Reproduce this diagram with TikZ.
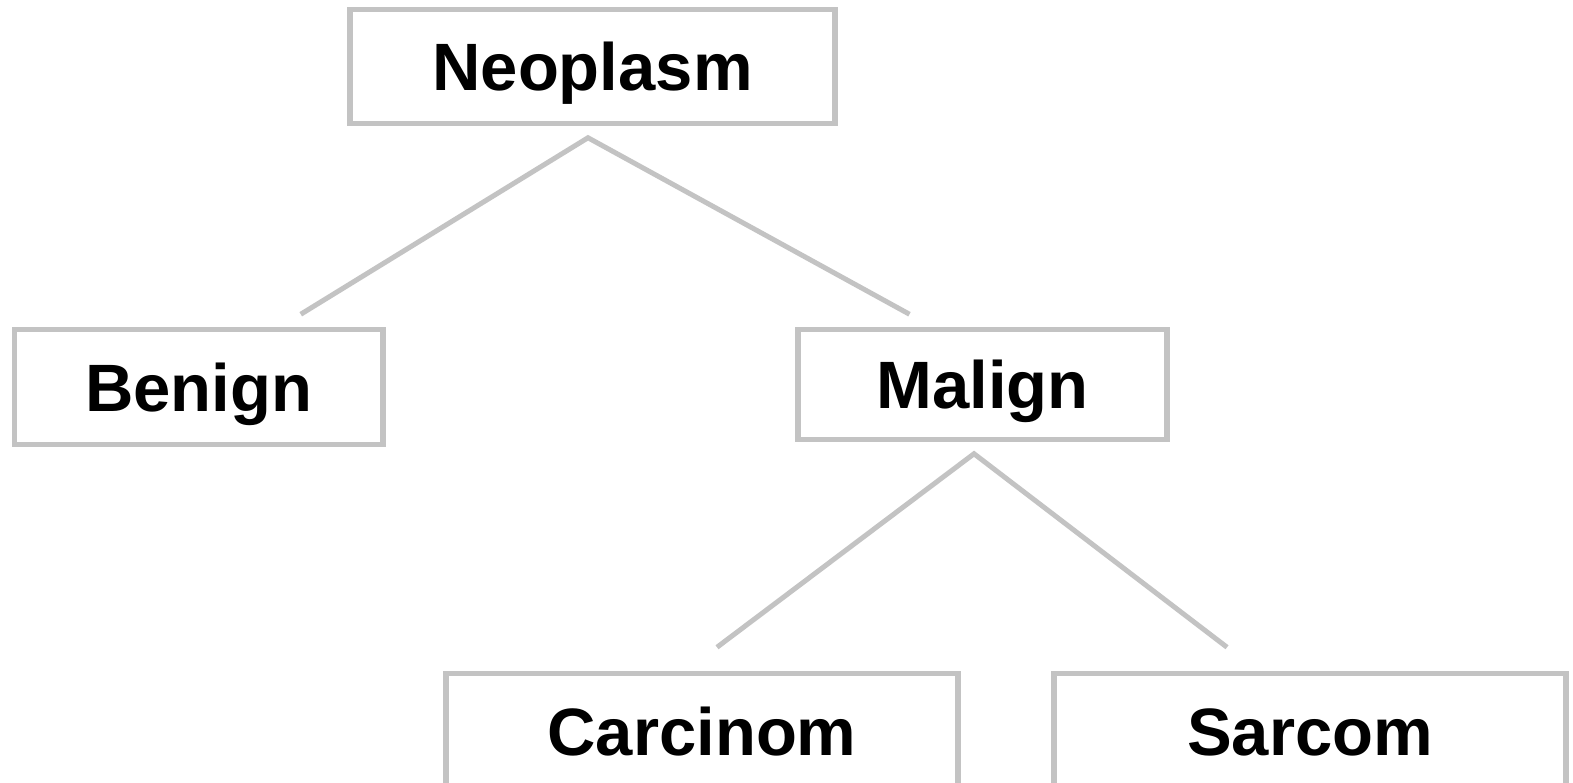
\documentclass[tikz,border=0pt]{standalone}
\usepackage{fontspec}
\setmainfont{Liberation Sans}
\usepackage{xcolor}
\usepackage{tikz}
\usetikzlibrary{positioning,calc}
\definecolor{boxgray}{RGB}{195,195,195}
\tikzset{
  cls/.style={rectangle, draw=boxgray, line width=5.5pt, fill=white, inner sep=0pt,
    text height=48pt, text depth=0pt, align=center,
    font=\fontsize{67}{80}\selectfont\bfseries},
  link/.style={draw=boxgray, line width=5pt},
}

\begin{document}
\begin{tikzpicture}[x=1pt,y=-1pt]
  \useasboundingbox (0,0) rectangle (1573,782);
  % classes
  \node[cls, minimum width=485pt, minimum height=114pt] (neo) at (592.5,66.5) {Neoplasm};
  \node[cls, minimum width=368.5pt, minimum height=115pt] (benign) at (198.75,387) {Benign};
  \node[cls, minimum width=369pt, minimum height=110pt] (malign) at (982.5,384.5) {Malign};
  \node[cls, minimum width=511.7pt, minimum height=115pt] (carc) at (702,731) {Carcinom};
  \node[cls, minimum width=512pt, minimum height=115pt] (sarc) at (1310,731) {Sarcom};
  % branch points
  \coordinate (neoTip) at ($(neo.south)+(-4.5,11.5)$);
  \coordinate (benignEnd) at ($(benign.north)+(102,-12.5)$);
  \coordinate (malignEnd) at ($(malign.north)+(-73,-12.5)$);
  \coordinate (malignTip) at ($(malign.south)+(-8.5,11.5)$);
  \coordinate (carcEnd) at ($(carc.north)+(15,-23.5)$);
  \coordinate (sarcEnd) at ($(sarc.north)+(-83,-23.5)$);
  \draw[link] (benignEnd) -- (neoTip) -- (malignEnd);
  \draw[link] (carcEnd) -- (malignTip) -- (sarcEnd);
\end{tikzpicture}
\end{document}
